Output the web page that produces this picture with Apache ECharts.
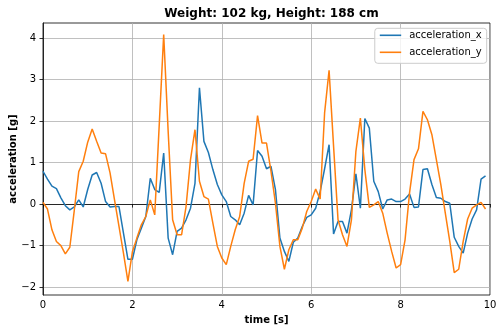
<!DOCTYPE html>
<html><head><meta charset="utf-8">
<script src="https://cdn.jsdelivr.net/npm/echarts@6/dist/echarts.min.js"></script>
<style>html,body{margin:0;padding:0;background:#fff}#c{width:503px;height:333px}</style>
</head><body><div id="c"></div>
<script>
const titleText = 'Weight: 102 kg, Height: 188 cm';
const seriesNames = ['acceleration_x', 'acceleration_y'];
const time = [0.0,0.1,0.2,0.3,0.4,0.5,0.6,0.7,0.8,0.9,1.0,1.1,1.2,1.3,1.4,1.5,1.6,1.7,1.8,1.9,
2.0,2.1,2.2,2.3,2.4,2.5,2.6,2.7,2.8,2.9,3.0,3.1,3.2,3.3,3.4,3.5,3.6,3.7,3.8,3.9,
4.0,4.1,4.2,4.3,4.4,4.5,4.6,4.7,4.8,4.9,5.0,5.1,5.2,5.3,5.4,5.5,5.6,5.7,5.8,5.9,
6.0,6.1,6.2,6.3,6.4,6.5,6.6,6.7,6.8,6.9,7.0,7.1,7.2,7.3,7.4,7.5,7.6,7.7,7.8,7.9,
8.0,8.1,8.2,8.3,8.4,8.5,8.6,8.7,8.8,8.9,9.0,9.1,9.2,9.3,9.4,9.5,9.6,9.7,9.8,9.9];
const accX = [0.79,0.6,0.43,0.37,0.15,-0.04,-0.14,-0.07,0.1,-0.07,
0.35,0.7,0.76,0.5,0.06,-0.07,-0.06,-0.06,-0.7,-1.33,
-1.33,-0.86,-0.58,-0.3,0.62,0.35,0.28,1.23,-0.82,-1.22,
-0.66,-0.58,-0.38,-0.1,0.5,2.8,1.51,1.24,0.83,0.47,
0.22,0.06,-0.3,-0.38,-0.5,-0.22,0.21,-0.02,1.29,1.15,
0.85,0.91,0.35,-0.82,-1.14,-1.38,-0.92,-0.82,-0.54,-0.32,
-0.26,-0.1,0.3,0.85,1.43,-0.72,-0.42,-0.42,-0.7,-0.14,
0.73,-0.1,2.06,1.83,0.55,0.3,-0.12,0.1,0.12,0.06,
0.06,0.12,0.24,-0.08,-0.07,0.83,0.85,0.47,0.16,0.14,
0.06,0.02,-0.8,-1.02,-1.18,-0.7,-0.36,-0.14,0.6,0.68];
const accY = [0.04,-0.12,-0.62,-0.9,-1.0,-1.2,-1.04,-0.15,0.78,1.03,
1.49,1.81,1.51,1.23,1.21,0.75,0.1,-0.54,-1.18,-1.86,
-1.15,-0.82,-0.5,-0.3,0.1,-0.26,1.9,4.08,1.75,-0.38,
-0.74,-0.74,-0.06,1.07,1.79,0.55,0.18,0.12,-0.46,-1.02,
-1.3,-1.46,-1.02,-0.62,-0.3,0.5,1.03,1.08,2.13,1.47,
1.47,0.79,0.02,-1.02,-1.57,-1.1,-0.86,-0.86,-0.58,-0.18,
0.06,0.36,0.12,2.2,3.22,1.4,-0.38,-0.74,-1.02,-0.38,
1.27,2.07,0.83,-0.08,-0.02,0.06,-0.22,-0.7,-1.14,-1.54,
-1.46,-0.86,0.27,1.07,1.33,2.23,2.03,1.67,1.07,0.47,
-0.22,-0.9,-1.65,-1.57,-0.9,-0.36,-0.1,-0.02,0.04,-0.12];
const xTicks = [0,2,4,6,8,10];
const yTicks = [-2,-1,0,1,2,3,4];

const font = 'DejaVu Sans';
const fmt = v => String(v).replace('-', '\u2212');
const chart = echarts.init(document.getElementById('c'), null, {renderer: 'canvas'});
chart.setOption({
  animation: false,
  backgroundColor: '#fff',
  title: {text: titleText, left: 266.5, textAlign: 'center', top: 3,
    textStyle: {fontFamily: font, fontSize: 12, fontWeight: 'bold', color: '#000'}},
  grid: {left: 43, top: 23, right: 13, bottom: 38, show: true, borderColor: '#000', borderWidth: 0.8,
    containLabel: false, outerBoundsMode: 'none'},
  legend: {
    orient: 'vertical', right: 16.3, top: 28.3,
    data: seriesNames,
    icon: 'rect',
    itemWidth: 21.4, itemHeight: 1.6, itemGap: 7,
    padding: [2, 5, 6, 5],
    borderColor: '#cccccc', borderWidth: 1, borderRadius: 3, backgroundColor: 'rgba(255,255,255,0.8)',
    textStyle: {fontFamily: font, fontSize: 10, color: '#000', padding: [0, 0, 0, 3]}
  },
  xAxis: {
    type: 'value', min: 0, max: 10, interval: 2,
    name: 'time [s]', nameLocation: 'middle', nameGap: 20, nameMoveOverlap: false,
    nameTextStyle: {fontFamily: font, fontSize: 10, fontWeight: 'bold', color: '#000'},
    axisLine: {show: true, lineStyle: {color: '#000', width: 0.8}},
    axisTick: {show: true, length: 3.5, inside: false, lineStyle: {color: '#000', width: 0.8}, customValues: xTicks},
    axisLabel: {fontFamily: font, fontSize: 10, color: '#000', margin: 5, customValues: xTicks, formatter: fmt},
    splitLine: {show: true, lineStyle: {color: '#b0b0b0', width: 0.8}}
  },
  yAxis: {
    type: 'value', min: -2.19, max: 4.36,
    name: 'acceleration [g]', nameLocation: 'middle', nameGap: 25, nameMoveOverlap: false,
    nameTextStyle: {fontFamily: font, fontSize: 10, fontWeight: 'bold', color: '#000'},
    axisLine: {show: true, lineStyle: {color: '#000', width: 0.8}},
    axisTick: {show: true, length: 3.5, inside: false, lineStyle: {color: '#000', width: 0.8}, customValues: yTicks},
    axisLabel: {fontFamily: font, fontSize: 10, color: '#000', margin: 7, customValues: yTicks, formatter: fmt},
    splitLine: {show: true, lineStyle: {color: '#b0b0b0', width: 0.8}}
  },
  series: [
    {name: seriesNames[0], type: 'line', data: time.map((t, i) => [t, accX[i]]), symbol: 'none',
     lineStyle: {color: '#1f77b4', width: 1.5}, itemStyle: {color: '#1f77b4'}, z: 3},
    {name: seriesNames[1], type: 'line', data: time.map((t, i) => [t, accY[i]]), symbol: 'none',
     lineStyle: {color: '#ff7f0e', width: 1.5}, itemStyle: {color: '#ff7f0e'}, z: 4}
  ]
});
</script></body></html>
